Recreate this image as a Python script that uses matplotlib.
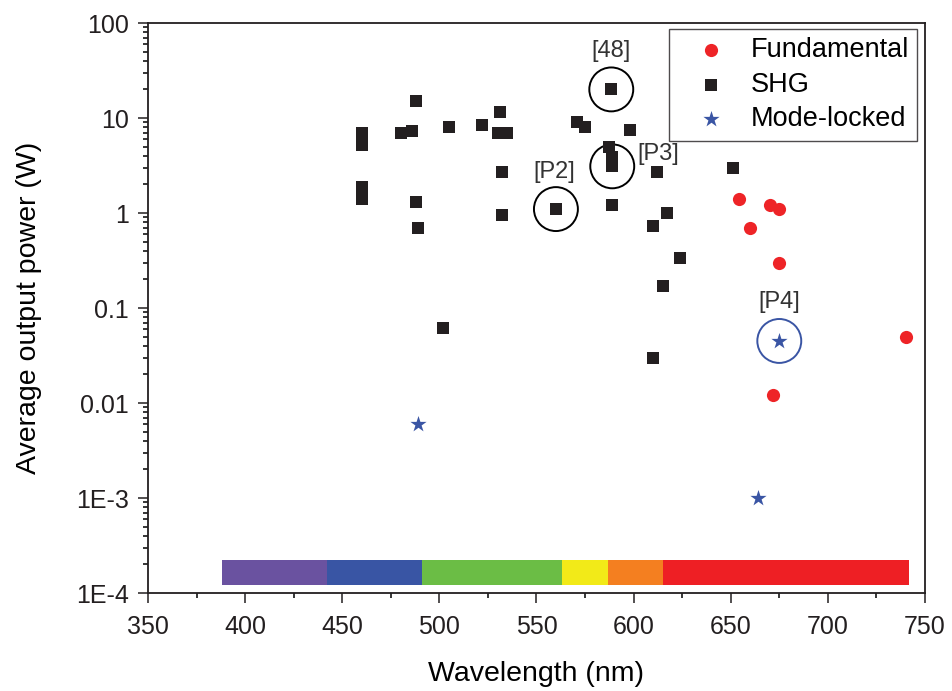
import matplotlib
matplotlib.use("Agg")
import matplotlib.pyplot as plt
from matplotlib.ticker import FixedLocator, FixedFormatter, LogLocator, MultipleLocator, NullFormatter

plt.rcParams['font.family'] = ['Liberation Sans', 'DejaVu Sans']

# fundamental emission
fund_wl = [654, 660, 670, 675, 675, 672, 740]
fund_p = [1.4, 0.7, 1.2, 1.1, 0.3, 0.012, 0.05]

# second harmonic generation
shg_wl = [460, 460, 460, 460, 480, 486, 488, 488, 489, 502, 505, 522, 531, 530,
          535, 532, 532, 560, 571, 575, 587.5, 589, 589, 589, 588.5, 589, 598,
          612, 617, 610, 624, 615, 610, 651]
shg_p = [7.0, 5.2, 1.9, 1.4, 7.0, 7.3, 15, 1.3, 0.7, 0.062, 8.0, 8.4, 11.5, 7.0,
         7.0, 2.7, 0.95, 1.1, 9.0, 8.0, 5.0, 3.9, 3.5, 3.1, 20, 1.2, 7.4,
         2.7, 1.0, 0.73, 0.34, 0.17, 0.03, 3.0]

# mode-locked operation
ml_wl = [489, 675, 664]
ml_p = [0.006, 0.045, 0.001]

# highlighted results: (label, wavelength, power, colour, text offset in points)
marked = [("[48]", 588.5, 20, "black", (0, 28)),
          ("[P2]", 560, 1.1, "black", (-1, 27)),
          ("[P3]", 589, 3.1, "black", (33, 9)),
          ("[P4]", 675, 0.045, "#3a55a4", (0, 28))]

# visible spectrum strip
band_edges = [388, 442, 491, 563, 587, 615, 742]
band_colors = ["#6a52a0", "#3955a4", "#6bbd45", "#f2ea18", "#f47f20", "#ee1f24"]

y_ticks = [1e-4, 1e-3, 1e-2, 1e-1, 1, 10, 100]
y_labels = ["1E-4", "1E-3", "0.01", "0.1", "1", "10", "100"]

fig = plt.figure(figsize=(9.52, 6.91), dpi=100)
ax = fig.add_axes([0.1555, 0.1418, 0.8161, 0.8249])

ax.set_yscale("log")
ax.set_xlim(350, 750)
ax.set_ylim(1e-4, 100)

bars = [(band_edges[i], band_edges[i + 1] - band_edges[i]) for i in range(len(band_colors))]
ax.broken_barh(bars, (1.2e-4, 1.0e-4), facecolors=band_colors, zorder=1)

ax.scatter(fund_wl, fund_p, s=90, marker="o", color="#ee2427", linewidths=0,
           label="Fundamental", zorder=3)
ax.scatter(shg_wl, shg_p, s=66, marker="s", color="#231f20", linewidths=0,
           label="SHG", zorder=3)
ax.scatter(ml_wl, ml_p, s=150, marker="*", color="#3a55a4", linewidths=0,
           label="Mode-locked", zorder=3)

for lab, wl, p, col, off in marked:
    ax.scatter([wl], [p], s=1000, marker="o", facecolors="none", edgecolors=col,
               linewidths=1.4, zorder=2)
    ax.annotate(lab, (wl, p), xytext=off, textcoords="offset points",
                ha="center", va="center", fontsize=17, color="#333333")

ax.xaxis.set_major_locator(MultipleLocator(50))
ax.xaxis.set_minor_locator(MultipleLocator(25))
ax.yaxis.set_major_locator(FixedLocator(y_ticks))
ax.yaxis.set_major_formatter(FixedFormatter(y_labels))
ax.yaxis.set_minor_locator(LogLocator(base=10, subs=range(2, 10), numticks=20))
ax.yaxis.set_minor_formatter(NullFormatter())

ax.tick_params(which="major", direction="out", length=7, width=1.1, labelsize=18,
               colors="#231f20")
ax.tick_params(axis="y", which="major", pad=7)
ax.tick_params(axis="x", which="major", pad=9)
ax.tick_params(which="minor", direction="out", length=3.5, width=1.1)
for sp in ax.spines.values():
    sp.set_linewidth(1.3)
    sp.set_color("#231f20")

ax.set_xlabel("Wavelength (nm)", fontsize=20.5, labelpad=16)
ax.set_ylabel("Average output power (W)", fontsize=20.5, labelpad=24)

leg = ax.legend(loc="upper right", bbox_to_anchor=(0.9897, 0.9895), borderaxespad=0,
                fontsize=19.5, frameon=True, fancybox=False, handletextpad=0.22,
                labelspacing=0.32, borderpad=0.3, handlelength=2.5)
leg.get_frame().set_edgecolor("#231f20")
leg.get_frame().set_linewidth(1.0)

fig.savefig("out.png", dpi=100)
